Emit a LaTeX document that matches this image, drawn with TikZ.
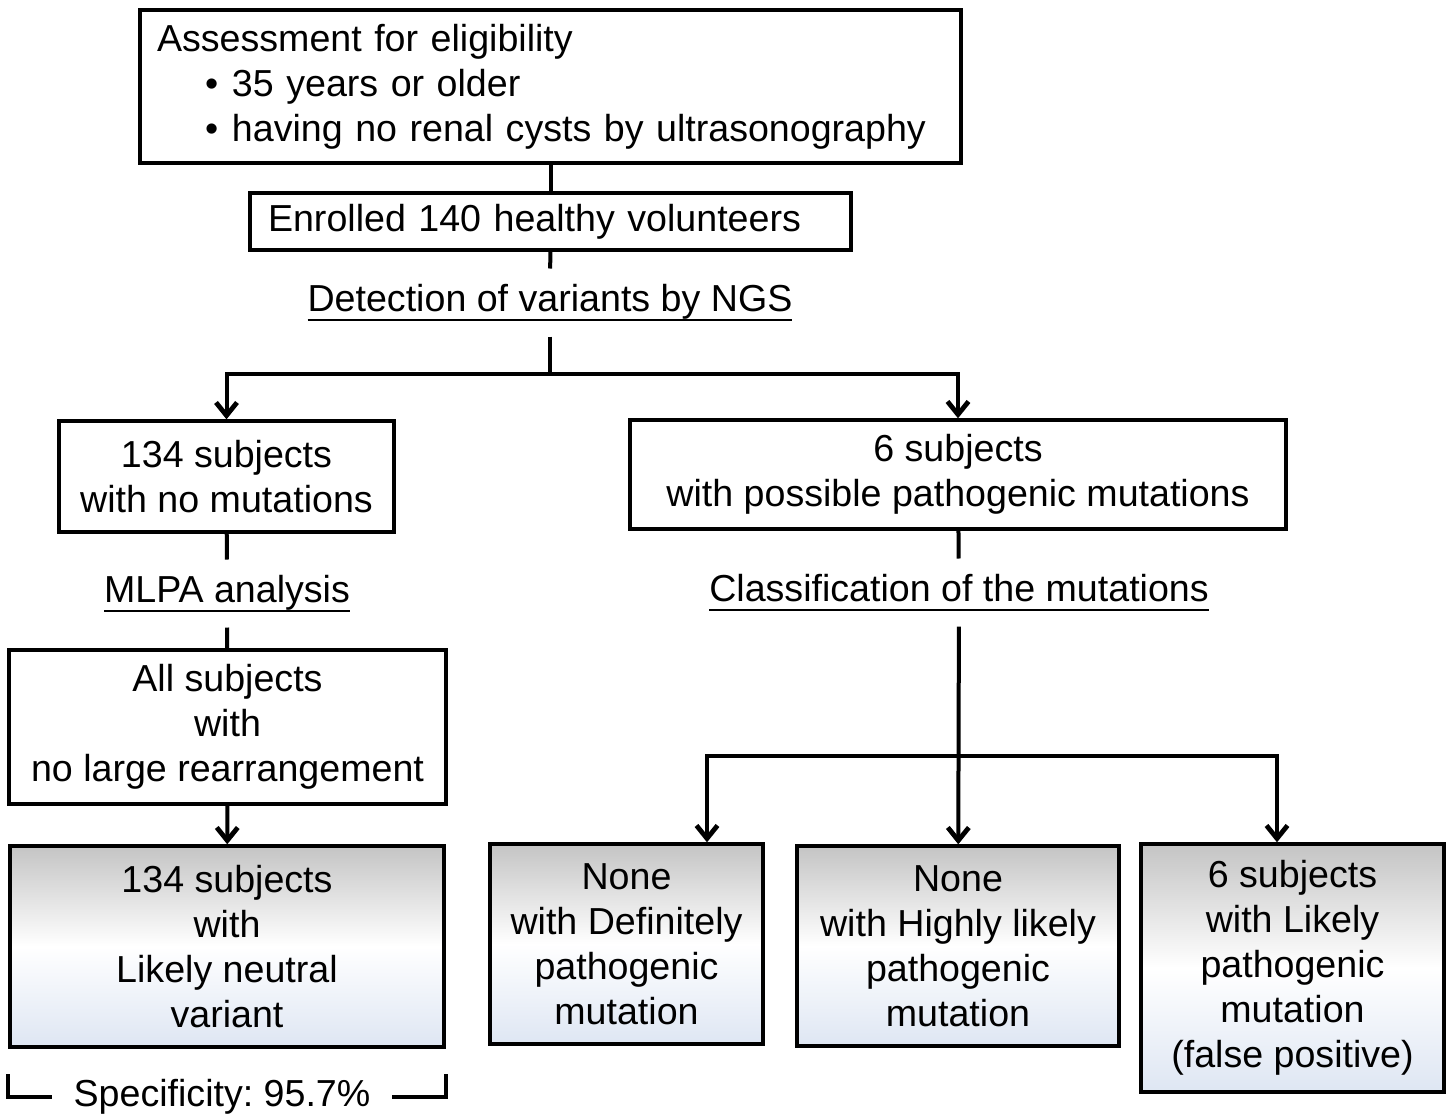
\documentclass[tikz,border=0pt]{standalone}
\usepackage{fontspec}
\setmainfont{Liberation Sans}
\usetikzlibrary{arrows.meta}
\definecolor{shadetop}{RGB}{196,196,196}
\definecolor{shadebot}{RGB}{222,230,243}
\newcommand{\ulabel}[1]{\leavevmode\setbox0\hbox{#1}\rlap{\rule[-4.5pt]{\wd0}{0.9pt}}\box0}
\frenchspacing

\begin{document}
\begin{tikzpicture}[x=0.5pt, y=-0.5pt, line width=2pt,
  font=\fontsize{18.8}{22.5}\selectfont,
  box/.style={draw, line width=1.7pt, align=center, inner sep=0pt},
  result/.style={box, top color=shadetop, bottom color=shadebot, middle color=white},
  stagelabel/.style={inner sep=0pt, minimum height=32pt},
  arr/.style={-{Straight Barb[length=6.5pt, width=10.5pt, line width=2.4pt]}}]
  \useasboundingbox (0, 0) rectangle (1448, 1114);

  % Enrolment
  \node[box, align=left, inner xsep=8.5pt, text width=393.5pt, minimum height=76.5pt]
    (assess) at (550.5, 86.5) {Assessment for eligibility\\
    \hspace*{24pt}\makebox[13.5pt][l]{\textbullet}35 years or older\\
    \hspace*{24pt}\makebox[13.5pt][l]{\textbullet}having no renal cysts by ultrasonography};
  \node[box, align=left, inner xsep=9pt, text width=282.5pt, minimum height=28.5pt]
    (enrolled) at (550.5, 221.5) {Enrolled 140 healthy volunteers};
  \node[stagelabel] (ngs) at (550, 302.5) {\ulabel{Detection of variants by NGS}};
  \draw (assess) -- (enrolled);
  \draw (enrolled) -- (ngs);
  \draw (ngs.south) -- ++(0, 37) coordinate (split1);

  % NGS results
  \node[box, minimum width=167.5pt, minimum height=55.5pt]
    (nomut) at (226.5, 476.5) {134 subjects\\with no mutations};
  \node[box, minimum width=328pt, minimum height=54.5pt]
    (possible) at (958, 474.5) {6 subjects\\with possible pathogenic mutations};
  \draw[arr] (split1) -| (nomut.north);
  \draw[arr] (split1) -| (possible.north);

  % Left branch
  \node[stagelabel] (mlpa) at (227, 593.5) {\ulabel{MLPA analysis}};
  \node[box, minimum width=218.5pt, minimum height=77pt]
    (norearr) at (227.5, 727) {All subjects\\with\\no large rearrangement};
  \node[result, minimum width=217pt, minimum height=100.5pt]
    (neutral) at (227, 946.5) {134 subjects\\with\\Likely neutral\\variant};
  \draw (nomut) -- (mlpa);
  \draw (mlpa) -- (norearr);
  \draw[arr] (norearr) -- (neutral);

  % Specificity bracket
  \node[inner xsep=10pt, inner ysep=0pt] (spec) at (222, 1097) {Specificity: 95.7\%};
  \draw (spec.west) -| ([yshift=-12.5pt]neutral.south west);
  \draw (spec.east) -| ([yshift=-12.5pt]neutral.south east);

  % Right branch
  \node[stagelabel] (classif) at (959, 592.5) {\ulabel{Classification of the mutations}};
  \node[result, minimum width=136.5pt, minimum height=100pt]
    (definite) at (626.5, 944) {None\\with Definitely\\pathogenic\\mutation};
  \node[result, minimum width=161pt, minimum height=100pt]
    (highly) at (958, 946) {None\\with Highly likely\\pathogenic\\mutation};
  \node[result, minimum width=151.5pt, minimum height=124pt]
    (falsepos) at (1292.5, 968) {6 subjects\\with Likely\\pathogenic\\mutation\\(false positive)};
  \draw (possible) -- (classif);
  \draw[arr] (classif) -- (highly);
  \coordinate (split2) at (959, 756);
  \draw[arr] (split2) -| ([xshift=40.25pt]definite.north);
  \draw[arr] (split2) -| ([xshift=-7.75pt]falsepos.north);
\end{tikzpicture}
\end{document}
